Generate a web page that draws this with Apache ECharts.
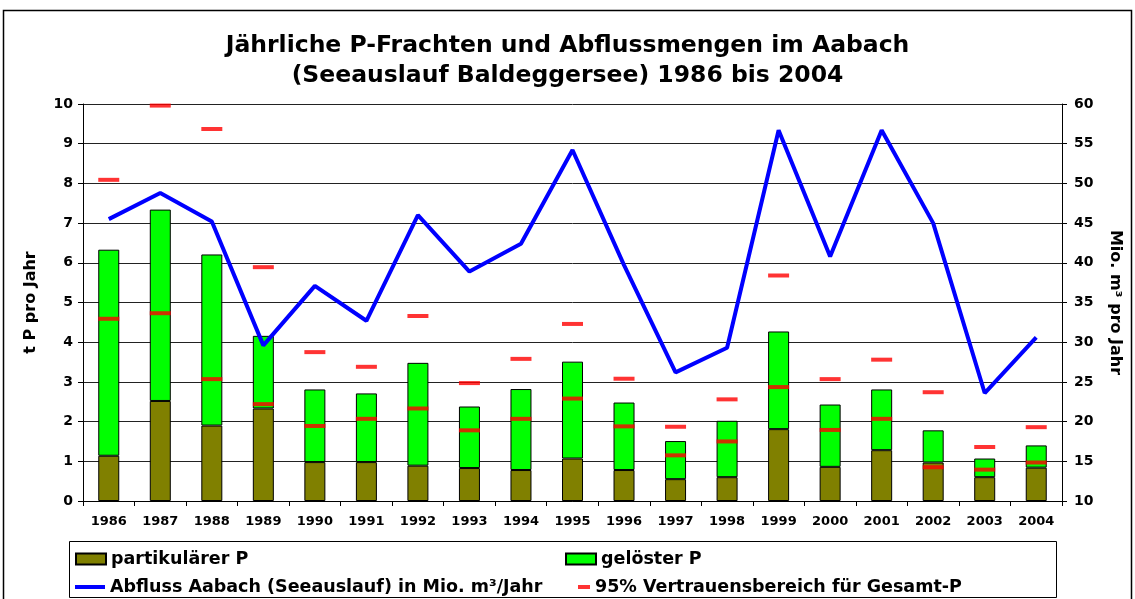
<!DOCTYPE html>
<html>
<head>
<meta charset="utf-8">
<script src="https://cdn.jsdelivr.net/npm/echarts@6/dist/echarts.min.js"></script>
<style>
  html, body { margin: 0; padding: 0; background: #fff; }
  #chart { width: 1135px; height: 599px; }
</style>
</head>
<body>
<div id="chart"></div>
<script>
// Jahre und Werte
const years = ['1986', '1987', '1988', '1989', '1990', '1991', '1992', '1993', '1994', '1995',
               '1996', '1997', '1998', '1999', '2000', '2001', '2002', '2003', '2004'];
const partikulaerP = [1.14, 2.52, 1.90, 2.33, 0.98, 0.98, 0.89, 0.83, 0.78, 1.07,
                      0.78, 0.55, 0.60, 1.81, 0.86, 1.28, 0.97, 0.60, 0.84];
const geloesterP = [5.19, 4.82, 4.31, 1.83, 1.83, 1.73, 2.59, 1.55, 2.04, 2.44,
                    1.70, 0.96, 1.42, 2.46, 1.57, 1.53, 0.81, 0.47, 0.56];
const vertrauenOben = [8.09, 9.96, 9.37, 5.89, 3.75, 3.38, 4.66, 2.97, 3.58, 4.46,
                       3.08, 1.87, 2.56, 5.68, 3.07, 3.56, 2.74, 1.36, 1.86];
const vertrauenUnten = [4.59, 4.73, 3.07, 2.44, 1.89, 2.07, 2.33, 1.78, 2.07, 2.58,
                        1.88, 1.15, 1.50, 2.87, 1.79, 2.07, 0.85, 0.79, 0.97];
const abfluss = [45.5, 48.8, 45.2, 29.6, 37.1, 32.7, 46.0, 38.9, 42.4, 54.2,
                 39.7, 26.2, 29.3, 56.7, 40.8, 56.7, 45.0, 23.6, 30.6];

const FONT = 'DejaVu Sans';
const nameAbfluss = 'Abfluss Aabach (Seeauslauf) in Mio. m³/Jahr';
const nameVertrauen = '95% Vertrauensbereich für Gesamt-P';

const chart = echarts.init(document.getElementById('chart'));

const legendText = { fontFamily: FONT, fontWeight: 'bold', fontSize: 17.5, color: '#000' };

const option = {
    backgroundColor: '#fff',
    animation: false,
    title: {
        text: 'Jährliche P-Frachten und Abflussmengen im Aabach\n(Seeauslauf Baldeggersee) 1986 bis 2004',
        left: 'center',
        top: 26,
        textStyle: {
            fontFamily: FONT,
            fontWeight: 'bold',
            fontSize: 23.5,
            lineHeight: 30,
            color: '#000'
        }
    },
    graphic: [
        {
            type: 'rect',
            shape: { x: 3.5, y: 10.5, width: 1128, height: 600 },
            style: { fill: 'none', stroke: '#000', lineWidth: 1.5 },
            silent: true
        },
        {
            type: 'rect',
            shape: { x: 69.5, y: 541.5, width: 987, height: 56 },
            style: { fill: 'none', stroke: '#000', lineWidth: 1 },
            silent: true
        }
    ],
    legend: [
        {
            data: [{ name: 'partikulärer P', icon: 'rect' }],
            left: 70,
            top: 545,
            itemWidth: 30,
            itemHeight: 11,
            textStyle: legendText
        },
        {
            data: [{ name: nameAbfluss, icon: 'rect' }],
            left: 70,
            top: 573,
            itemWidth: 30,
            itemHeight: 4,
            textStyle: legendText
        },
        {
            data: [{ name: 'gelöster P', icon: 'rect' }],
            left: 560,
            top: 545,
            itemWidth: 30,
            itemHeight: 11,
            textStyle: legendText
        },
        {
            data: [{ name: nameVertrauen, icon: 'rect' }],
            left: 573,
            top: 573,
            itemWidth: 12,
            itemHeight: 4,
            textStyle: legendText
        }
    ],
    grid: {
        left: 83,
        right: 73,
        top: 104,
        bottom: 98
    },
    xAxis: {
        type: 'category',
        data: years,
        axisLine: { lineStyle: { color: '#000', width: 1 } },
        axisTick: { show: true, alignWithLabel: false, interval: 0, length: 5, lineStyle: { color: '#000' } },
        axisLabel: {
            interval: 0,
            margin: 14,
            fontFamily: FONT,
            fontWeight: 'bold',
            fontSize: 13,
            color: '#000'
        }
    },
    yAxis: [
        {
            type: 'value',
            min: 0,
            max: 10,
            interval: 1,
            name: 't P pro Jahr',
            nameLocation: 'middle',
            nameRotate: 90,
            nameGap: 44,
            nameTextStyle: { fontFamily: FONT, fontWeight: 'bold', fontSize: 16, color: '#000' },
            axisLine: { show: true, lineStyle: { color: '#000', width: 1 } },
            axisTick: { show: true, length: 5, lineStyle: { color: '#000' } },
            axisLabel: { margin: 10, fontFamily: FONT, fontWeight: 'bold', fontSize: 14, color: '#000' },
            splitLine: { show: true, lineStyle: { color: '#222', width: 1, type: 'solid' } }
        },
        {
            type: 'value',
            min: 10,
            max: 60,
            interval: 5,
            position: 'right',
            name: 'Mio. m³ pro Jahr',
            nameLocation: 'middle',
            nameRotate: -90,
            nameGap: 45,
            nameTextStyle: { fontFamily: FONT, fontWeight: 'bold', fontSize: 16, color: '#000' },
            axisLine: { show: true, lineStyle: { color: '#000', width: 1 } },
            axisTick: { show: true, length: 5, lineStyle: { color: '#000' } },
            axisLabel: { margin: 12, fontFamily: FONT, fontWeight: 'bold', fontSize: 14, color: '#000' },
            splitLine: { show: false }
        }
    ],
    series: [
        {
            name: 'partikulärer P',
            type: 'bar',
            stack: 'P',
            barWidth: 21,
            itemStyle: { color: '#808000', borderColor: '#000', borderWidth: 1 },
            data: partikulaerP
        },
        {
            name: 'gelöster P',
            type: 'bar',
            stack: 'P',
            barWidth: 21,
            itemStyle: { color: '#00FF00', borderColor: '#000', borderWidth: 1 },
            data: geloesterP
        },
        {
            name: nameVertrauen,
            type: 'scatter',
            symbol: 'rect',
            symbolSize: [21, 4],
            itemStyle: { color: '#FF0000' },
            z: 4,
            data: vertrauenOben
        },
        {
            name: nameVertrauen,
            type: 'scatter',
            symbol: 'rect',
            symbolSize: [21, 4],
            itemStyle: { color: '#FF0000' },
            z: 4,
            data: vertrauenUnten
        },
        {
            name: nameAbfluss,
            type: 'line',
            yAxisIndex: 1,
            symbol: 'none',
            lineStyle: { color: '#0000FF', width: 4 },
            itemStyle: { color: '#0000FF' },
            z: 5,
            data: abfluss
        }
    ]
};

chart.setOption(option);

window.addEventListener('resize', function() {
    chart.resize();
});
</script>
</body>
</html>
